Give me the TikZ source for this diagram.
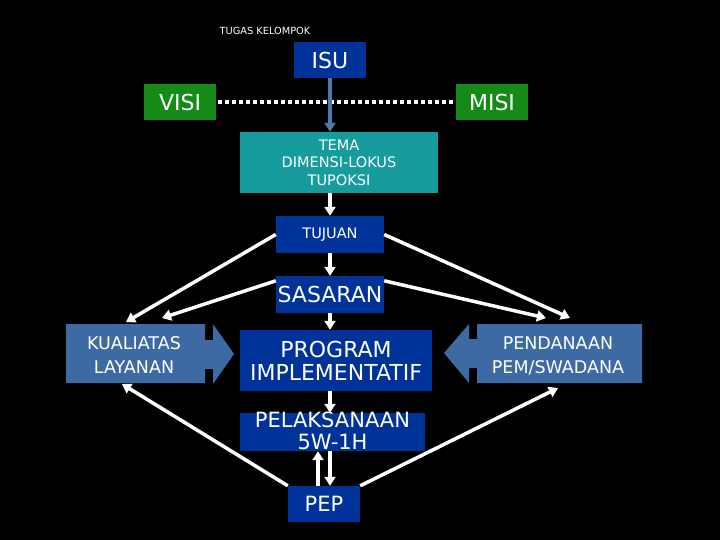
\documentclass[tikz,border=0pt]{standalone}
\usepackage{fontspec}
\setmainfont{DejaVu Sans}
\usetikzlibrary{arrows.meta}
\definecolor{dblue}{HTML}{003399}
\definecolor{steel}{HTML}{3D6AA2}
\definecolor{tealc}{HTML}{169C9C}
\definecolor{greenc}{HTML}{168A16}
\definecolor{isuarrow}{HTML}{4F78AD}
\begin{document}
\begin{tikzpicture}[x=1pt,y=-1pt,
  box/.style={fill=#1, text=white, inner sep=0pt, align=center},
  txt/.style={text=white, inner sep=0pt, align=center},
  big/.style={font=\fontsize{22}{23}\selectfont},
  mid/.style={font=\fontsize{21}{22}\selectfont},
  side/.style={font=\fontsize{17.5}{24}\selectfont},
  small/.style={font=\fontsize{14.5}{17.5}\selectfont},
  arr/.style={white, line width=3.5pt, -{Triangle[length=9pt,width=11pt]}},
  blockarrow/.style={fill=steel}
]
\fill[black] (0,0) rectangle (720,540);
\useasboundingbox (0,0) rectangle (720,540);

% block arrows
\fill[blockarrow] (66,324) -- (205,324) -- (205,340) -- (213,340) -- (213,324) -- (234,354)
  -- (213,384) -- (213,369) -- (205,369) -- (205,383) -- (66,383) -- cycle;
\fill[blockarrow] (642,324) -- (477,324) -- (477,339) -- (469,339) -- (469,324) -- (444,353)
  -- (469,383) -- (469,368) -- (477,368) -- (477,383) -- (642,383) -- cycle;

\node[txt, font=\fontsize{9.8}{11}\selectfont] (title) at (265,31) {TUGAS KELOMPOK};

\node[box=dblue, big, minimum width=72pt, minimum height=36pt] (isu) at (330,60) {ISU};
\node[box=greenc, big, minimum width=72pt, minimum height=36pt] (visi) at (180,102) {VISI};
\node[box=greenc, big, minimum width=72pt, minimum height=36pt] (misi) at (492,102) {MISI};
\node[box=tealc, small, minimum width=198pt, minimum height=61pt] (tema) at (339,162.5) {TEMA\\DIMENSI-LOKUS\\TUPOKSI};
\node[box=dblue, small, minimum width=108pt, minimum height=37pt] (tujuan) at (330,234.5) {TUJUAN};
\node[box=dblue, big, minimum width=108pt, minimum height=37pt] (sasaran) at (330,294.5) {SASARAN};
\node[box=dblue, big, minimum width=192pt, minimum height=61pt] (program) at (336,360.5) {PROGRAM\\IMPLEMENTATIF};
\node[box=dblue, minimum width=185pt, minimum height=38pt] (pelakbox) at (332.5,432) {};
\node[txt, mid] (pelak) at (332.5,431) {PELAKSANAAN\\5W-1H};
\node[box=dblue, mid, minimum width=72pt, minimum height=36pt] (pep) at (324,504) {PEP};

\node[txt, side] (kual) at (134,355) {KUALIATAS\\LAYANAN};
\node[txt, side] (dana) at (558,355.5) {PENDANAAN\\PEM/SWADANA};

\coordinate (kq1) at (126,322);
\coordinate (kq2) at (162,318);
\coordinate (kq3) at (122,384);
\coordinate (kp1) at (570,318);
\coordinate (kp2) at (546,318);
\coordinate (kp3) at (558,388);

% dotted VISI--MISI
\draw[white, line width=4pt, dash pattern=on 4pt off 3pt, shorten <=2pt, shorten >=2pt] (visi.east) -- (misi.west);

% ISU arrow
\draw[isuarrow, line width=3.5pt, -{Triangle[length=9pt,width=11pt]}] (isu.south) -- (isu.south |- tema.north);

% vertical chain
\draw[arr] (tema.south -| tujuan.north) -- (tujuan.north);
\draw[arr] (tujuan.south) -- (sasaran.north);
\draw[arr] (sasaran.south) -- (sasaran.south |- program.north);
\draw[arr] (sasaran.south |- program.south) -- (sasaran.south |- pelakbox.north);
\draw[arr] ([xshift=-6pt]pep.north) -- ([xshift=-6pt]pep.north |- pelakbox.south);
\draw[arr] ([xshift=6pt]pep.north |- pelakbox.south) -- ([xshift=6pt]pep.north);

% diagonals
\draw[arr] (tujuan.west) -- (kq1);
\draw[arr] ([yshift=-5pt]sasaran.north west) -- (kq2);
\draw[arr] (tujuan.east) -- (kp1);
\draw[arr] ([yshift=-5pt]sasaran.north east) -- (kp2);
\draw[arr] (pep.north west) -- (kq3);
\draw[arr] (pep.north east) -- (kp3);
\end{tikzpicture}
\end{document}
